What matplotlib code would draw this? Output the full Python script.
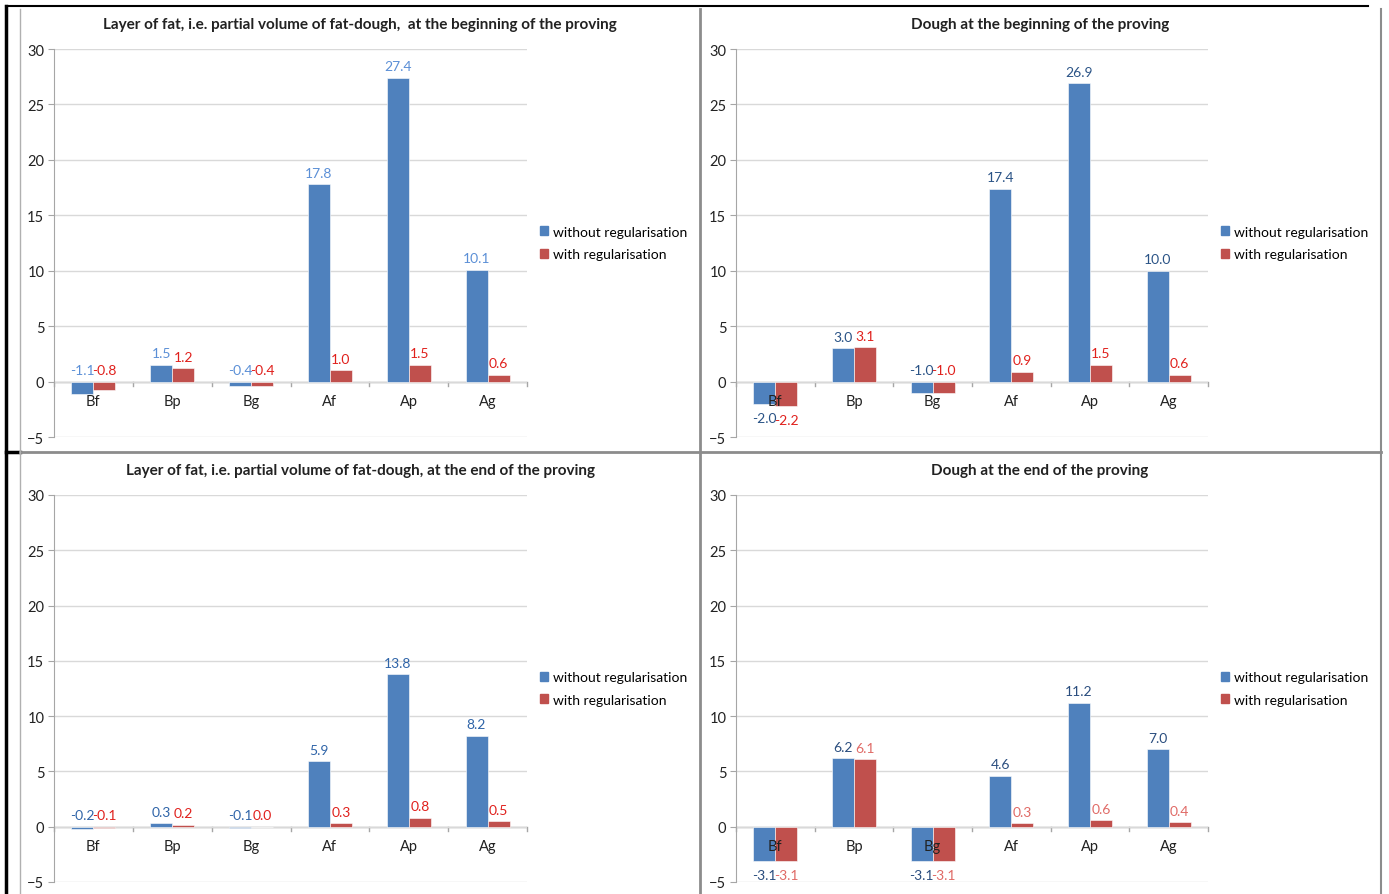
import matplotlib.pyplot as plt
import numpy as np
from matplotlib.lines import Line2D
from matplotlib.patches import Patch

plt.rcParams["font.family"] = ["Lato", "DejaVu Sans"]

# 数据
categories = ["Bf", "Bp", "Bg", "Af", "Ap", "Ag"]
series_names = ["without regularisation", "with regularisation"]

titles = [
    "Layer of fat, i.e. partial volume of fat-dough,  at the beginning of the proving",
    "Dough at the beginning of the proving",
    "Layer of fat, i.e. partial volume of fat-dough, at the end of the proving",
    "Dough at the end of the proving",
]

without_reg = [
    [-1.1, 1.5, -0.4, 17.8, 27.4, 10.1],
    [-2.0, 3.0, -1.0, 17.4, 26.9, 10.0],
    [-0.2, 0.3, -0.1, 5.9, 13.8, 8.2],
    [-3.1, 6.2, -3.1, 4.6, 11.2, 7.0],
]
with_reg = [
    [-0.8, 1.2, -0.4, 1.0, 1.5, 0.6],
    [-2.2, 3.1, -1.0, 0.9, 1.5, 0.6],
    [-0.1, 0.2, 0.0, 0.3, 0.8, 0.5],
    [-3.1, 6.1, -3.1, 0.3, 0.6, 0.4],
]

y_ticks = [-5, 0, 5, 10, 15, 20, 25, 30]

# 颜色
bar_colors = ["#4f81bd", "#c0504d"]
label_colors = [
    ("#5b8fd6", "#e0201c"),
    ("#2a5386", "#e0201c"),
    ("#2f64a8", "#e0201c"),
    ("#2a4d7e", "#e06a66"),
]

W, H = 1389, 895
fig = plt.figure(figsize=(W / 100, H / 100), dpi=100)


def fx(px):
    return px / W


def fy(py):
    return 1 - py / H


# 面板位置 (像素): 左, 上(30), 右, 下(-5)
panels = [
    (54, 50, 527, 438),
    (736, 50, 1208, 438),
    (54, 496, 527, 883),
    (736, 496, 1208, 883),
]
title_y = [25, 25, 471, 471]

width = 0.28
x = np.arange(len(categories))

for i, (l, t, r, b) in enumerate(panels):
    ax = fig.add_axes([fx(l), fy(b), fx(r - l), (b - t) / H])
    ax.set_xlim(-0.5, len(categories) - 0.5)
    ax.set_ylim(-5, 30)

    ax.bar(x - width / 2, without_reg[i], width, color=bar_colors[0],
           edgecolor="white", linewidth=0.4, zorder=2)
    ax.bar(x + width / 2, with_reg[i], width, color=bar_colors[1],
           edgecolor="white", linewidth=0.4, zorder=2)

    # 网格和坐标轴
    ax.set_yticks(y_ticks)
    ax.grid(axis="y", color="#d9d9d9", linewidth=1.0, zorder=0)
    for s in ["top", "right", "bottom"]:
        ax.spines[s].set_visible(False)
    ax.spines["left"].set_color("#a6a6a6")
    ax.tick_params(axis="y", length=4, color="#a6a6a6", labelsize=10.5,
                   labelcolor="#222222", pad=3)
    ax.set_xticks([])
    ax.axhline(0, color="#a6a6a6", linewidth=1.0, zorder=1)
    for k in range(len(categories) + 1):
        ax.plot([k - 0.5, k - 0.5], [0, -0.4], color="#a6a6a6",
                linewidth=1.0, zorder=1, clip_on=False)

    # 类别标签
    for k, c in enumerate(categories):
        ax.annotate(c, (k, 0), xytext=(0, -14), textcoords="offset points",
                    ha="center", va="center", fontsize=10.5, color="#222222",
                    zorder=5)

    # 数值标签
    for j, vals in enumerate([without_reg[i], with_reg[i]]):
        off = -width / 2 if j == 0 else width / 2
        for k, v in enumerate(vals):
            if v < -1.5:
                ax.annotate(f"{v:.1f}", (k + off, v), xytext=(0, -6),
                            textcoords="offset points", ha="center", va="top",
                            fontsize=10, color=label_colors[i][j], zorder=5)
            else:
                ax.annotate(f"{v:.1f}", (k + off, max(v, 0)), xytext=(0, 4),
                            textcoords="offset points", ha="center",
                            va="bottom", fontsize=10, color=label_colors[i][j],
                            zorder=5)

    handles = [Patch(color=bar_colors[0]), Patch(color=bar_colors[1])]
    ax.legend(handles, series_names, loc="center left",
              bbox_to_anchor=(1.01, 0.5), frameon=False, fontsize=10,
              handlelength=0.6, handleheight=0.6, handletextpad=0.35,
              labelspacing=0.75, borderaxespad=0.2)

    cx = 360 if i % 2 == 0 else 1040
    fig.text(fx(cx), fy(title_y[i]), titles[i], ha="center", va="center",
             fontsize=11, fontweight="bold", color="#222222")

# 表格边框
border = [
    ((6, 6), (7, 895), "black", 2.5),
    ((6, 1368), (7, 7), "black", 1.5),
    ((6, 20), (453, 453), "black", 2.5),
    ((20, 1381), (453, 453), "#8c8c8c", 2.0),
    ((20, 20), (10, 895), "#b0b0b0", 1.0),
    ((700, 700), (10, 895), "#8c8c8c", 2.0),
    ((1381, 1381), (10, 895), "#8c8c8c", 1.5),
]
for xs, ys, col, lw in border:
    fig.add_artist(Line2D([fx(xs[0]), fx(xs[1])], [fy(ys[0]), fy(ys[1])],
                          color=col, linewidth=lw))

fig.savefig("out.png", dpi=100)
